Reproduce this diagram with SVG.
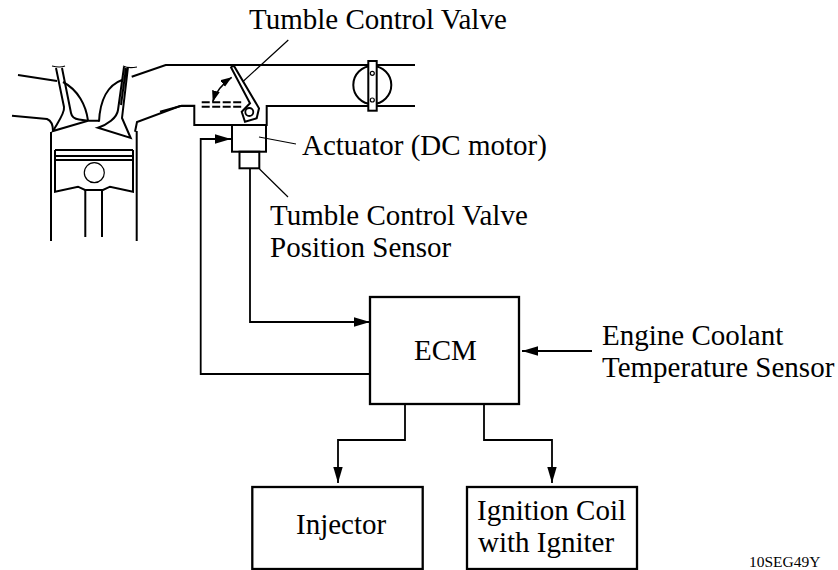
<svg xmlns="http://www.w3.org/2000/svg" width="838" height="570" viewBox="0 0 838 570">
<style>
.l{fill:none;stroke:#000;stroke-width:2;stroke-linejoin:miter}
.t{fill:none;stroke:#000;stroke-width:1.2}
.b{fill:#fff;stroke:#000;stroke-width:2}
.c{fill:none;stroke:#000;stroke-width:1.8}
.box{fill:none;stroke:#000;stroke-width:2.300}
text{font-family:"Liberation Serif","Times New Roman",serif;font-size:29px;fill:#000}
</style>
<defs>
<marker id="a" markerUnits="userSpaceOnUse" markerWidth="18" markerHeight="10" refX="16" refY="4.700" orient="auto"><path d="M0 0L16 4.700L0 9.400Z" fill="#000"/></marker>
<marker id="s" markerUnits="userSpaceOnUse" markerWidth="12" markerHeight="10" refX="11" refY="4" orient="auto-start-reverse"><path d="M0 0L11 4L0 8Z" fill="#000"/></marker>
</defs>
<g id="engine">
<path class="l" d="M18 75L57 81M12 115.700L47 119C52 121 53 125 53 131M51 132V241M136.700 131V241"/>
<path class="l" d="M55 150H133M56 156H133M56 160H133"/>
<path class="l" d="M55 150V191.700L78 186.700L85 190H103L110 186.700L133 191.700V150"/>
<path class="l" d="M85.300 190V237M102 190V237"/>
<circle class="t" cx="94.300" cy="172.700" r="10"/>
<path class="l" d="M131.700 76.700L165.700 65H415M135 131.700L137 122L180 106H194.300"/>
<path class="l" d="M56 68L64 107C65 113 58 122 53 131L88 120.700H99M62 68L71 113C72 118 75 119 79 119.500L88 120.700"/>
<path class="l" d="M124 67L118 110C117 118 107 125 98 127.700L130.700 138L122 118L128 67M121 105L126 68"/>
<path class="l" d="M63 82C78 90 86 105 88 120.700M99 121.700C100 100 108 85 122 80"/>
<path class="t" d="M52 66C56 67 60 68 65 66M123 66C127 68 132 68 137 67"/>
</g>
<g id="valve">
<path class="l" d="M160 111.700L181.700 105.700H194.300V125H266.700V106H415"/>
<path class="l" d="M230.700 66.700L234 66L259 108.300L256.700 118.300L245 121.700L241.700 111.700L250 103.300L230.700 66.700"/>
<circle class="t" cx="249.300" cy="112" r="4" style="stroke-width:1.800"/>
<path class="l" d="M201.700 102.300H243M201.700 106.700H243" stroke-dasharray="8 2.500"/>
<path class="t" d="M212.700 101.700C216 91 222 84 231.700 77.300" marker-start="url(#s)" marker-end="url(#s)" style="stroke-width:1.600"/>
<circle class="l" cx="372.300" cy="85" r="19"/>
<rect class="b" x="368.300" y="61" width="8.400" height="49.700"/>
<circle class="t" cx="372.300" cy="73.300" r="2"/>
<circle class="t" cx="372.300" cy="100" r="2"/>
</g>
<g id="actuator">
<rect class="l" x="232" y="125" width="34" height="26.700"/>
<rect class="l" x="239.500" y="151.700" width="19.800" height="16.600"/>
</g>
<g id="ecm"><rect class="box" x="370" y="297" width="149" height="107"/><text x="414" y="360">ECM</text></g>
<g id="injector"><rect class="box" x="252.300" y="487" width="170.400" height="82"/><text x="296" y="534">Injector</text></g>
<g id="coil"><rect class="box" x="467" y="487" width="170" height="82"/><text x="477" y="520">Ignition Coil</text><text x="478" y="552">with Igniter</text></g>
<g id="connectors">
<path class="c" d="M250 168.500V322H370" marker-end="url(#a)"/>
<path class="c" d="M370 374H200.700V139H231" marker-end="url(#a)"/>
<path class="c" d="M592 351H522" marker-end="url(#a)"/>
<path class="c" d="M405 404V440H338V483" marker-end="url(#a)"/>
<path class="c" d="M484 404V440H552V483" marker-end="url(#a)"/>
<path class="t" d="M288.300 40L242.700 81.700M259.500 169L288 197M259 137L296 144"/>
</g>
<g id="labels">
<text x="249" y="29">Tumble Control Valve</text>
<text x="302" y="155">Actuator (DC motor)</text>
<text x="270" y="225">Tumble Control Valve</text>
<text x="270" y="257">Position Sensor</text>
<text x="602" y="345">Engine Coolant</text>
<text x="602" y="377">Temperature Sensor</text>
<text x="749" y="567" style="font-size:15.500px">10SEG49Y</text>
</g>
</svg>
